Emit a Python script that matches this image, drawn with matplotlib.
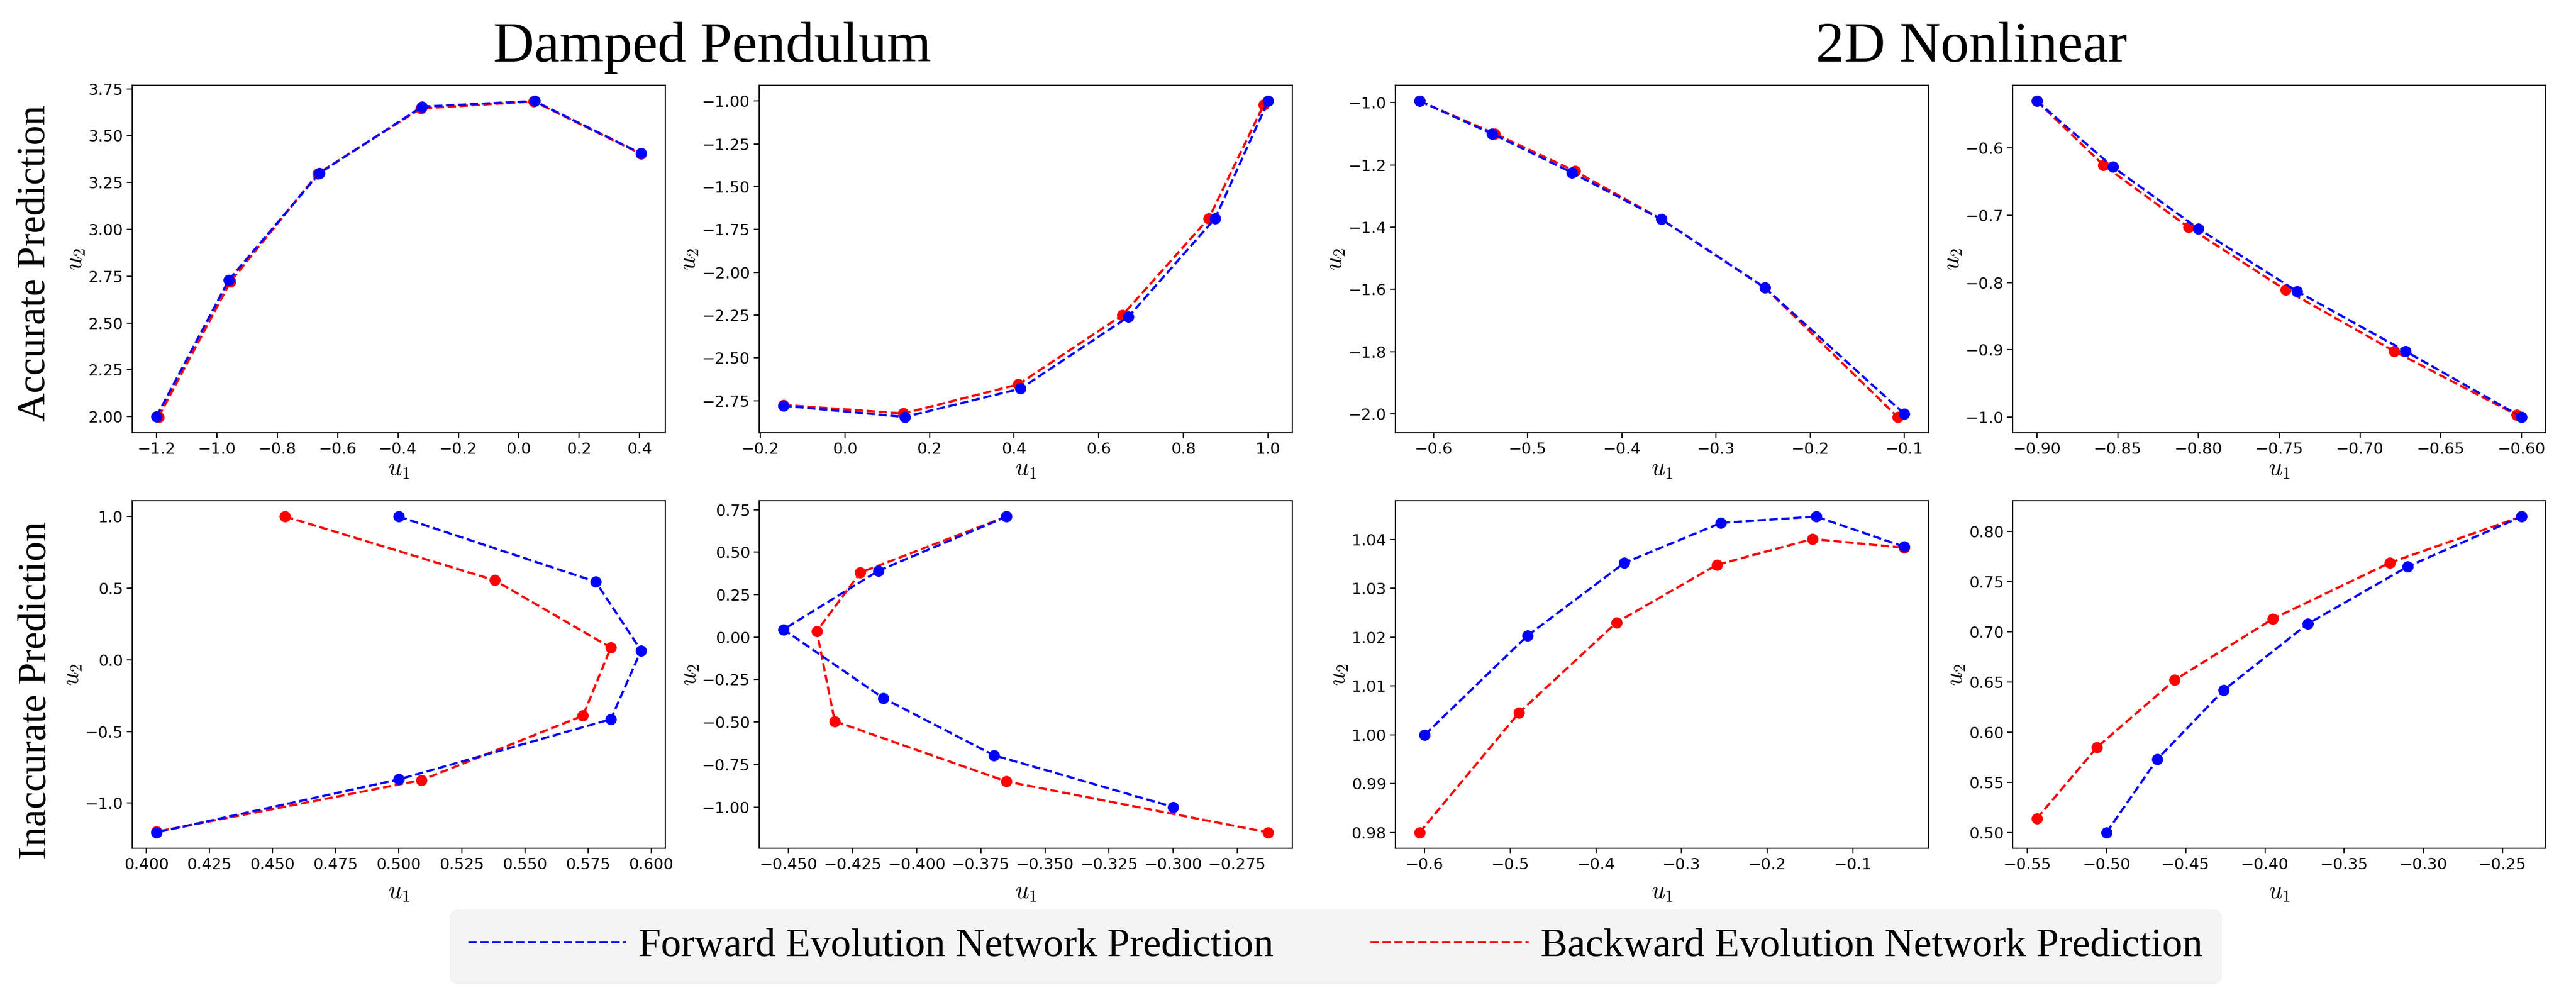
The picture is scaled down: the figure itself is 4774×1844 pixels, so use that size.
import matplotlib
matplotlib.use("Agg")
import matplotlib.pyplot as plt
from matplotlib.lines import Line2D

plt.rcParams['mathtext.fontset'] = 'cm'
plt.rcParams['font.family'] = ['DejaVu Sans']

# ---------------- data ----------------
col_titles = ["Damped Pendulum", "2D Nonlinear"]
row_titles = ["Accurate Prediction", "Inaccurate Prediction"]
legend_labels = ["Forward Evolution Network Prediction", "Backward Evolution Network Prediction"]

# Damped pendulum, accurate (panel 1)
dp_acc1_fwd_u1 = [-1.200, -0.960, -0.660, -0.320, 0.052, 0.405]
dp_acc1_fwd_u2 = [2.000, 2.730, 3.300, 3.655, 3.685, 3.405]
dp_acc1_bwd_u1 = [-1.193, -0.955, -0.665, -0.325, 0.050, 0.405]
dp_acc1_bwd_u2 = [1.998, 2.720, 3.298, 3.645, 3.683, 3.403]

# Damped pendulum, accurate (panel 2)
dp_acc2_fwd_u1 = [-0.145, 0.142, 0.415, 0.670, 0.875, 1.000]
dp_acc2_fwd_u2 = [-2.780, -2.845, -2.680, -2.260, -1.685, -1.000]
dp_acc2_bwd_u1 = [-0.145, 0.138, 0.410, 0.656, 0.860, 0.990]
dp_acc2_bwd_u2 = [-2.775, -2.825, -2.655, -2.250, -1.685, -1.020]

# 2D nonlinear, accurate (panel 3)
nl_acc1_fwd_u1 = [-0.615, -0.538, -0.453, -0.358, -0.248, -0.100]
nl_acc1_fwd_u2 = [-0.995, -1.100, -1.225, -1.375, -1.595, -2.000]
nl_acc1_bwd_u1 = [-0.615, -0.535, -0.450, -0.358, -0.248, -0.107]
nl_acc1_bwd_u2 = [-0.995, -1.100, -1.220, -1.375, -1.595, -2.010]

# 2D nonlinear, accurate (panel 4)
nl_acc2_fwd_u1 = [-0.900, -0.853, -0.800, -0.739, -0.672, -0.600]
nl_acc2_fwd_u2 = [-0.530, -0.628, -0.720, -0.813, -0.902, -1.000]
nl_acc2_bwd_u1 = [-0.900, -0.859, -0.806, -0.746, -0.679, -0.603]
nl_acc2_bwd_u2 = [-0.530, -0.625, -0.718, -0.811, -0.902, -0.997]

# Damped pendulum, inaccurate (panel 5)
dp_inacc1_fwd_u1 = [0.500, 0.578, 0.596, 0.584, 0.500, 0.404]
dp_inacc1_fwd_u2 = [1.000, 0.545, 0.065, -0.415, -0.835, -1.205]
dp_inacc1_bwd_u1 = [0.455, 0.538, 0.584, 0.573, 0.509, 0.404]
dp_inacc1_bwd_u2 = [1.000, 0.555, 0.085, -0.390, -0.840, -1.200]

# Damped pendulum, inaccurate (panel 6)
dp_inacc2_fwd_u1 = [-0.365, -0.415, -0.452, -0.413, -0.370, -0.300]
dp_inacc2_fwd_u2 = [0.710, 0.390, 0.045, -0.360, -0.695, -1.000]
dp_inacc2_bwd_u1 = [-0.365, -0.422, -0.439, -0.432, -0.365, -0.263]
dp_inacc2_bwd_u2 = [0.710, 0.380, 0.035, -0.495, -0.850, -1.150]

# 2D nonlinear, inaccurate (panel 7)
nl_inacc1_fwd_u1 = [-0.600, -0.480, -0.367, -0.254, -0.143, -0.040]
nl_inacc1_fwd_u2 = [1.0000, 1.0203, 1.0352, 1.0434, 1.0447, 1.0385]
nl_inacc1_bwd_u1 = [-0.606, -0.490, -0.376, -0.259, -0.147, -0.040]
nl_inacc1_bwd_u2 = [0.9800, 1.0045, 1.0230, 1.0348, 1.0401, 1.0383]

# 2D nonlinear, inaccurate (panel 8)
nl_inacc2_fwd_u1 = [-0.500, -0.468, -0.426, -0.373, -0.310, -0.238]
nl_inacc2_fwd_u2 = [0.500, 0.573, 0.642, 0.708, 0.765, 0.815]
nl_inacc2_bwd_u1 = [-0.544, -0.506, -0.457, -0.395, -0.321, -0.238]
nl_inacc2_bwd_u2 = [0.514, 0.585, 0.652, 0.713, 0.769, 0.815]

panels = [
    [(dp_acc1_fwd_u1, dp_acc1_fwd_u2, dp_acc1_bwd_u1, dp_acc1_bwd_u2),
     (dp_acc2_fwd_u1, dp_acc2_fwd_u2, dp_acc2_bwd_u1, dp_acc2_bwd_u2),
     (nl_acc1_fwd_u1, nl_acc1_fwd_u2, nl_acc1_bwd_u1, nl_acc1_bwd_u2),
     (nl_acc2_fwd_u1, nl_acc2_fwd_u2, nl_acc2_bwd_u1, nl_acc2_bwd_u2)],
    [(dp_inacc1_fwd_u1, dp_inacc1_fwd_u2, dp_inacc1_bwd_u1, dp_inacc1_bwd_u2),
     (dp_inacc2_fwd_u1, dp_inacc2_fwd_u2, dp_inacc2_bwd_u1, dp_inacc2_bwd_u2),
     (nl_inacc1_fwd_u1, nl_inacc1_fwd_u2, nl_inacc1_bwd_u1, nl_inacc1_bwd_u2),
     (nl_inacc2_fwd_u1, nl_inacc2_fwd_u2, nl_inacc2_bwd_u1, nl_inacc2_bwd_u2)],
]

# ---------------- figure ----------------
W, H = 4774, 1844
DPI = 100
fig = plt.figure(figsize=(W / DPI, H / DPI), dpi=DPI)

col_left_px = [245, 1407, 2586, 3730]
ax_w_px = 988
row_top_px = [158, 928]
ax_h_px = 644

serif = ['Liberation Serif', 'DejaVu Serif']
LW = 3.0
MS = 14
tick_fs = 21
lab_fs = 32

for r in range(2):
    for c in range(4):
        l = col_left_px[c] / W
        b = 1 - (row_top_px[r] + ax_h_px) / H
        ax = fig.add_axes([l, b, ax_w_px / W, ax_h_px / H])
        fu1, fu2, bu1, bu2 = panels[r][c]
        ax.plot(bu1, bu2, linestyle='--', color='red', marker='o', markersize=MS, linewidth=LW)
        ax.plot(fu1, fu2, linestyle='--', color='blue', marker='o', markersize=MS, linewidth=LW)
        ax.tick_params(axis='both', labelsize=tick_fs, length=7, width=1.6, pad=5)
        for sp in ax.spines.values():
            sp.set_linewidth(1.6)
        ax.set_xlabel(r'$u_1$', fontsize=lab_fs, labelpad=(0 if r == 0 else 10))
        ax.set_ylabel(r'$u_2$', fontsize=lab_fs, labelpad=2)

# column titles
fig.text(1320 / W, 1 - 114 / H, col_titles[0], ha='center', va='baseline',
         fontsize=76, family=serif)
fig.text(3654 / W, 1 - 114 / H, col_titles[1], ha='center', va='baseline',
         fontsize=76, family=serif)

# row titles
fig.text(65 / W, 1 - 488 / H, row_titles[0], ha='center', va='center', rotation=90,
         fontsize=53, family=serif)
fig.text(67 / W, 1 - 1279 / H, row_titles[1], ha='center', va='center', rotation=90,
         fontsize=53, family=serif)

# legend
handles = [Line2D([], [], color='blue', linestyle='--', linewidth=LW),
           Line2D([], [], color='red', linestyle='--', linewidth=LW)]
leg = fig.legend(handles, legend_labels, loc='center',
                 bbox_to_anchor=(2475 / W, 1 - 1754 / H), ncol=2,
                 prop={'family': serif, 'size': 54},
                 frameon=True, fancybox=True, facecolor='#f4f4f5', edgecolor='#f0f0f1',
                 framealpha=1.0, handlelength=3.9, handletextpad=0.3,
                 columnspacing=2.4, borderpad=0.45)

fig.savefig('out.png', dpi=DPI)
